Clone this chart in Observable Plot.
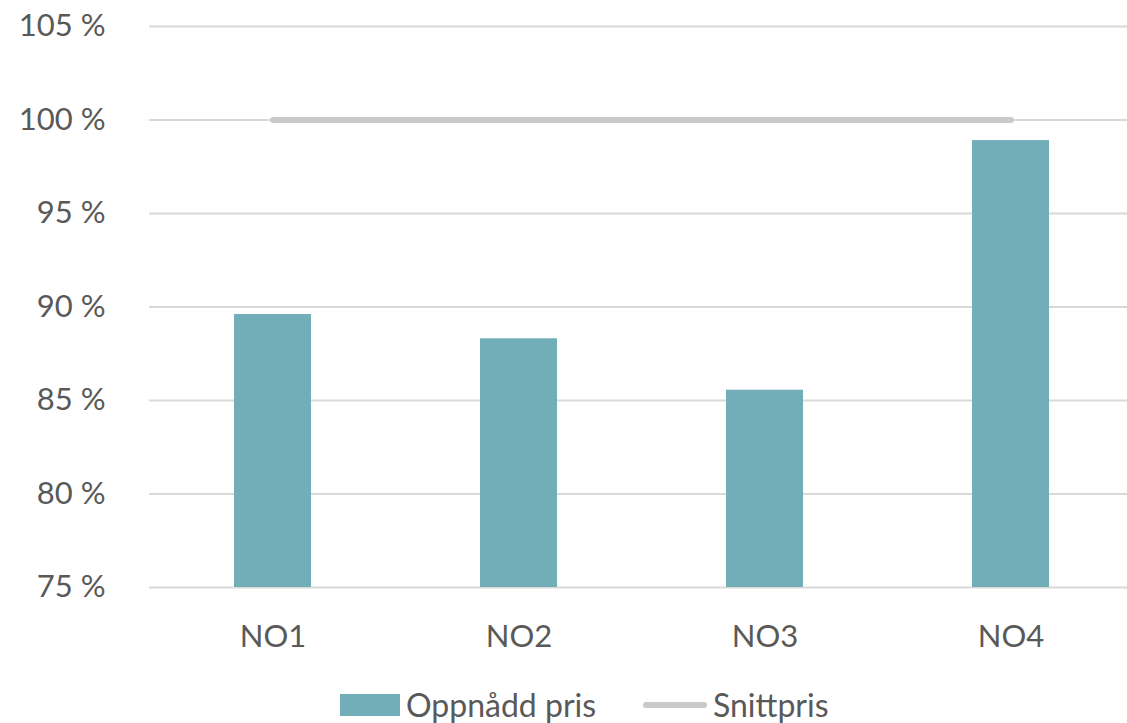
<!DOCTYPE html>
<html>
<head>
<meta charset="utf-8">
<script src="https://cdn.jsdelivr.net/npm/d3@7"></script>
<script src="https://cdn.jsdelivr.net/npm/@observablehq/plot@0.6"></script>
<style>
  html, body { margin: 0; padding: 0; background: #fff; overflow: hidden; }
  #chart { width: 1127px; height: 723px; position: relative; overflow: hidden; font-family: Lato, "Open Sans", sans-serif; color: #595959; }
  #chart svg { display: block; max-width: none !important; }
  .legend { position: absolute; top: 688px; left: 0; width: 1127px; height: 34px; }
  .legend .item { position: absolute; top: 0; height: 34px; display: flex; align-items: center; font-size: 32px; line-height: 1; color: #595959; }
  .swatch-bar { width: 60px; height: 22px; background: #72aeb8; margin-right: 6px; }
  .swatch-line { width: 64px; height: 6px; background: #c9c9c9; border-radius: 3px; margin-right: 6px; }
</style>
</head>
<body>
<div id="chart"></div>
<script>
// Achieved price per price area, as a share of the average price
const areas = ["NO1", "NO2", "NO3", "NO4"];
const achieved = [89.6, 88.3, 85.55, 98.9];
const average = [100, 100, 100, 100];
const yTicks = [75, 80, 85, 90, 95, 100, 105];

const seriesNames = ["Oppnådd pris", "Snittpris"];

const bars = areas.map((a, i) => ({area: a, value: achieved[i]}));
const avgLine = areas.map((a, i) => ({area: a, value: average[i]}));

const plot = Plot.plot({
  width: 1135,
  height: 686,
  marginLeft: 149,
  marginRight: 1,
  marginTop: 26,
  marginBottom: 99,
  style: {fontFamily: "Lato, 'Open Sans', sans-serif", fontSize: "31px", color: "#595959", background: "#fff", maxWidth: "none"},
  x: {domain: areas, paddingInner: 0.685, paddingOuter: 0.3425, label: null},
  y: {domain: [75, 105], ticks: yTicks, label: null},
  marks: [
    Plot.gridY(yTicks, {stroke: "#d9d9d9", strokeOpacity: 1, strokeWidth: 2}),
    Plot.barY(bars, {x: "area", y1: 75, y2: "value", fill: "#72aeb8"}),
    Plot.line(avgLine, {x: "area", y: "value", stroke: "#c9c9c9", strokeWidth: 6, strokeLinecap: "round"}),
    Plot.axisY(yTicks, {tickSize: 0, tickPadding: 44, tickFormat: d => `${d} %`, fill: "#595959", fontSize: 31}),
    Plot.axisX({tickSize: 0, tickPadding: 37, fill: "#595959", fontSize: 31})
  ]
});

const chart = document.getElementById("chart");
chart.appendChild(plot);

// Legend below the plot
const legend = document.createElement("div");
legend.className = "legend";
legend.innerHTML = `
  <div class="item" style="left:340px"><div class="swatch-bar"></div><span>${seriesNames[0]}</span></div>
  <div class="item" style="left:643px"><div class="swatch-line"></div><span>${seriesNames[1]}</span></div>
`;
chart.appendChild(legend);
</script>
</body>
</html>
